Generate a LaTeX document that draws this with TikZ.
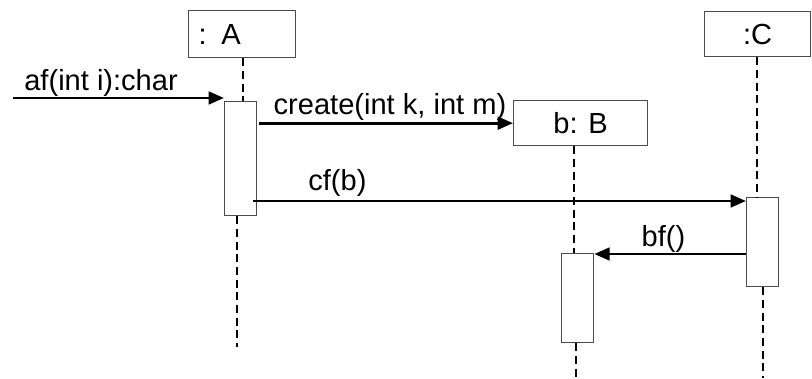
\documentclass[tikz,border=0pt]{standalone}
\usepackage{fontspec}
\setmainfont{Liberation Sans}
\usepackage{tikz}
\usetikzlibrary{arrows.meta, positioning, calc}

\begin{document}
\begin{tikzpicture}[x=0.75pt, y=-0.75pt,
		font=\fontsize{21.8}{26}\selectfont,
		objbox/.style={draw=black!70, line width=1pt, inner sep=0pt, anchor=north west},
		actbox/.style={draw=black!70, line width=1pt, fill=white, inner sep=0pt, anchor=north west, minimum width=24pt},
		lifeline/.style={line width=1.6pt, dash pattern=on 6pt off 3.5pt},
		msg/.style={line width=2pt, -{Triangle[length=11.5pt, width=9.5pt]}},
		lbl/.style={inner sep=0pt, anchor=base west}]
		\useasboundingbox (0,0) rectangle (812,378);
		\node[objbox, minimum width=80.25pt, minimum height=35.25pt, text width=65.25pt, inner xsep=7.5pt, align=left] (A) at (188,10) {: A};
		\node[objbox, minimum width=100.5pt, minimum height=33.75pt] (B) at (513,100) {b: B};
		\node[objbox, minimum width=79.5pt, minimum height=33.75pt] (C) at (704,11) {:C};
		\node[actbox, minimum height=85.5pt] (actA) at (224,101) {};
		\node[actbox, minimum height=66.75pt] (actB) at (561,253) {};
		\node[actbox, minimum height=66.75pt] (actC) at (746,197) {};
		\coordinate (endA) at (237,347);
		\coordinate (endB) at (576,378);
		\coordinate (endC) at (763,378);
		\draw[lifeline] (243,0 |- A.south) -- (243,0 |- actA.north);
		\draw[lifeline] (endA |- actA.south) -- (endA);
		\draw[lifeline] (574,0 |- B.south) -- (574,0 |- actB.north);
		\draw[lifeline] (endB |- actB.south) -- (endB);
		\draw[lifeline] (757,0 |- C.south) -- (757,0 |- actC.north);
		\draw[lifeline] (endC |- actC.south) -- (endC);
		% messages
		\coordinate (af) at (13,98);
		\coordinate (cf) at (253,201);
		\draw[msg] (af) -- (af -| actA.west)
			node[lbl] at ([shift={(10,-8)}]af) {af(int i):char};
		\draw[msg] ([xshift=1.5pt]actA.east |- B.west) -- (B.west)
			node[lbl] at ([shift={(15,-9)}]actA.east |- B.west) {create(int k, int m)};
		\draw[msg] (cf) -- (cf -| actC.west)
			node[lbl] at ([shift={(54,-11)}]cf) {cf(b)};
		\draw[msg] ([yshift=-0.75pt]actC.west |- actB.north) -- ([yshift=-0.75pt]actB.north east)
			node[lbl] at ([shift={(46,-7)}]actB.north east) {bf()};
	\end{tikzpicture}
\end{document}
